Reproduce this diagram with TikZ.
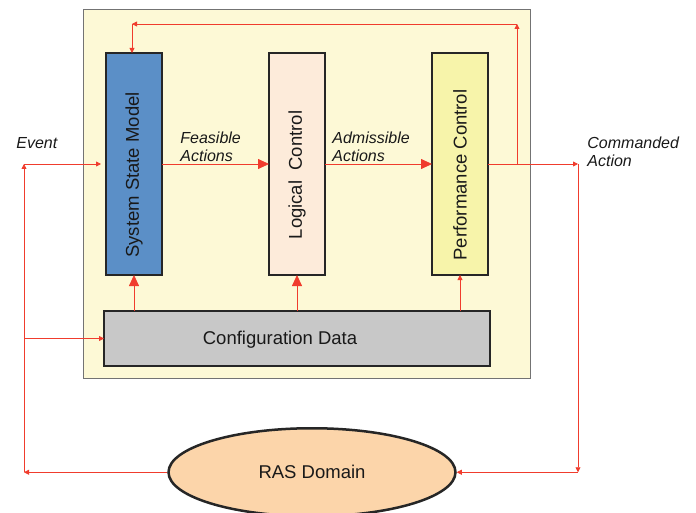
\documentclass[tikz,border=0pt]{standalone}
\usepackage{fontspec}
\setmainfont{Liberation Sans}
\usetikzlibrary{positioning,shapes.geometric,arrows.meta}
\definecolor{framefill}{RGB}{253,249,214}
\definecolor{ssmfill}{RGB}{91,143,199}
\definecolor{lcfill}{RGB}{253,235,218}
\definecolor{pcfill}{RGB}{247,244,170}
\definecolor{cfgfill}{RGB}{200,200,200}
\definecolor{rasfill}{RGB}{252,213,170}
\definecolor{arrowred}{RGB}{240,60,45}

\begin{document}
\begin{tikzpicture}[x=1pt,y=-1pt]
		\tikzstyle{frame}=[rectangle, minimum width=447pt, minimum height=369pt, fill=framefill, draw=black!55, line width=0.8pt]
		\tikzstyle{block}=[rectangle, line width=2.5pt, draw=black!85, minimum width=56pt, minimum height=222pt, inner sep=0pt, outer sep=0pt]
		\tikzstyle{btext}=[font=\fontsize{18.5}{20}\selectfont, text=black!90]
		\tikzstyle{vtext}=[btext, yshift=-11pt, rotate=90]
		\tikzstyle{connect}=[-{Triangle[length=5pt,width=5pt]}, draw=arrowred, line width=0.8pt]
		\tikzstyle{bigconnect}=[-{Triangle[length=11pt,width=10pt]}, draw=arrowred, line width=0.8pt]
		\tikzstyle{elabel}=[font=\itshape\fontsize{16}{18}\selectfont, align=left, inner sep=2pt, text=black!90]
		\useasboundingbox (0,0) rectangle (696,513);
		\node[frame] (frame) at (306.5,193.5) { };
		\node[block, fill=ssmfill] (ssm) at (134,164) [label={[vtext]center:System State Model}] { };
		\node[block, fill=lcfill] (lc) [right=107pt of ssm, label={[vtext]center:Logical\ \ Control}] { };
		\node[block, fill=pcfill] (pc) [right=107pt of lc, label={[vtext]center:Performance Control}] { };
		\node[block, fill=cfgfill, minimum width=386pt, minimum height=55pt] (cfg) [below=36pt of lc, label={[btext, xshift=-17pt, yshift=-1pt]center:Configuration Data}] { };
		\node[ellipse, line width=2.5pt, draw=black!85, fill=rasfill, minimum width=287pt, minimum height=88pt, btext] (ras) [below=61pt of cfg, xshift=15pt] {RAS Domain};
		\coordinate (cmd) at (578,164);
		\coordinate (cmdlow) at (cmd |- ras.east);
		\coordinate (evup) at (24,164);
		\coordinate (evlow) at (evup |- ras.west);
		\coordinate (evmid) at (evup |- cfg.west);
		\coordinate (tap) at (517,164);
		\coordinate (tapup) at (517,24);
		\coordinate (fbleft) at (132,24);
		\path (ssm) edge [bigconnect] node[elabel, pos=0, above right, xshift=16pt] {Feasible\\Actions} (lc)
		(lc) edge [bigconnect] node[elabel, pos=0, above right, xshift=5pt] {Admissible\\Actions} (pc)
		(pc) edge [connect] node[elabel, pos=1, right, xshift=7pt, yshift=12pt] {Commanded\\Action} (cmd)
		(tap) edge [connect] (tapup)
		(tapup) edge [connect] (fbleft)
		(fbleft) edge [connect] (fbleft |- ssm.north)
		(cmd) edge [connect] (cmdlow)
		(cmdlow) edge [connect] (ras.east)
		(ras.west) edge [connect] (evlow)
		(evlow) edge [connect] (evup)
		(evup) edge [connect, shorten >=5pt] node[elabel, pos=0, above right, xshift=-10pt, yshift=13pt] {Event} (ssm.west)
		(evmid) edge [connect] (cfg.west)
		(cfg.north -| ssm) edge [bigconnect] (ssm.south)
		(cfg.north -| lc) edge [bigconnect] (lc.south)
		(cfg.north -| pc) edge [connect] (pc.south);
\end{tikzpicture}
\end{document}
